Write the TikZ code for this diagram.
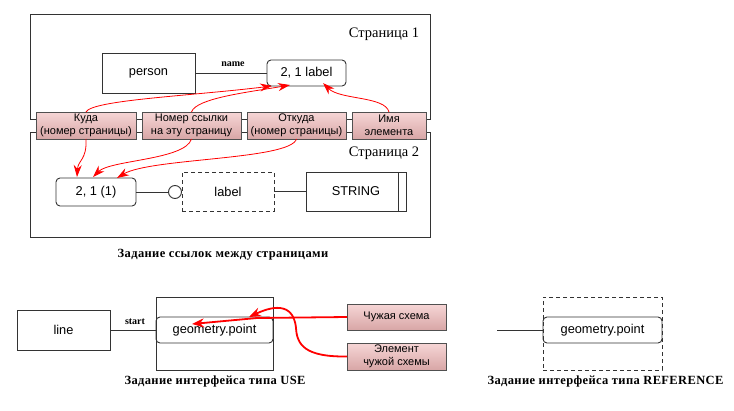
\documentclass[tikz,border=0pt]{standalone}
\usepackage{fontspec}
\setmainfont{Liberation Serif}
\setsansfont{Liberation Sans}
\usetikzlibrary{arrows.meta}
\definecolor{linec}{HTML}{333333}
\definecolor{pinkline}{HTML}{505050}
\definecolor{pinktop}{HTML}{F6D6D6}
\definecolor{pinkbot}{HTML}{D8A6A6}
\newfontfamily\capfont[LetterSpace=3]{Liberation Serif}
\begin{document}
\begin{tikzpicture}[x=1pt,y=-1pt,
  every node/.style={inner sep=0pt, outer sep=0pt},
  box/.style={draw=linec, line width=0.9pt, font=\sffamily\fontsize{12.8}{14}\selectfont},
  rbox/.style={box, rounded corners=4pt},
  dbox/.style={box, dash pattern=on 4pt off 3pt},
  pinkbox/.style={draw=pinkline, line width=0.9pt, top color=pinktop, bottom color=pinkbot, font=\sffamily\fontsize{11}{12.7}\selectfont, align=center},
  pagebox/.style={draw=linec, line width=0.9pt},
  pagetitle/.style={font=\fontsize{14.5}{16}\selectfont},
  lbl/.style={font=\bfseries\fontsize{10}{11}\selectfont},
  captext/.style={font=\capfont\bfseries\fontsize{12.5}{13}\selectfont},
  redarrow/.style={red, line width=0.8pt, -{Stealth[length=12pt,width=8pt]}},
  redthick/.style={red, line width=1.8pt, -{Stealth[length=12pt,width=9pt]}},
  conn/.style={draw=linec, line width=0.9pt}
]
\useasboundingbox (0,0) rectangle (734,410);

% pages
\node[pagebox, minimum width=400pt, minimum height=105pt, anchor=north west] (page1) at (30,14) {};
\node[pagebox, minimum width=400pt, minimum height=105pt, anchor=north west] (page2) at (30,132) {};
\node[pagetitle] (t1) at (384,34) {Страница 1};
\node[pagetitle] (t2) at (384,153) {Страница 2};

% page 1 content
\node[box, minimum width=93pt, minimum height=40pt] (person) at (148.5,73) {person};
\node[rbox, minimum width=79pt, minimum height=26pt] (lab1) at (306.5,73) {2, 1 label};
\draw[conn] (person.east) -- (lab1.west);
\node[lbl] (nm) at (233,64) {name};

% pink boxes
\node[pinkbox, minimum width=100pt, minimum height=27pt] (p1) at (86,125.5) {Куда\\(номер страницы)};
\node[pinkbox, minimum width=99pt, minimum height=27pt] (p2) at (191.5,125.5) {Номер ссылки\\на эту страницу};
\node[pinkbox, minimum width=99pt, minimum height=27pt] (p3) at (296.5,125.5) {Откуда\\(номер страницы)};
\node[pinkbox, minimum width=74pt, minimum height=27pt] (p4) at (389,125.5) {Имя\\элемента};

% page 2 content
\node[rbox, minimum width=80pt, minimum height=28pt] (lab2) at (96,192) {2, 1 (1)};
\node[draw=linec, line width=0.9pt, circle, minimum size=13pt, fill=white] (circ) at (175,192) {};
\node[dbox, minimum width=92pt, minimum height=39pt] (dlab) at (228,191.5) {label};
\node[box, minimum width=100pt, minimum height=39pt] (str) at (356,191.5) {STRING};
\draw[conn] ([xshift=-8pt]str.north east) -- ([xshift=-8pt]str.south east);
\draw[conn] (lab2.east) -- (circ.west);
\draw[conn] (dlab.east) -- (str.west);

\node[captext] (cap1) at (223,255) {Задание ссылок между страницами};

% red arrows, page links
\coordinate (tip1) at (272,86);
\coordinate (tip2) at (290,85);
\coordinate (tip3) at (323,83);
\coordinate (tip4) at (77,177);
\coordinate (tip5) at (93,177);
\coordinate (tip6) at (117,178);
\draw[redarrow] (p1.north) .. controls (92,100) and (190,96) .. (tip1);
\draw[redarrow] (p2.north) .. controls (196,98) and (250,92) .. (tip2);
\draw[redarrow] (p4.north) .. controls (385,96) and (340,100) .. (tip3);
\draw[redarrow] (p1.south) .. controls (87,160) and (78,160) .. (tip4);
\draw[redarrow] (p2.south) .. controls (185,160) and (110,160) .. (tip5);
\draw[redarrow] (p3.south) .. controls (290,160) and (150,158) .. (tip6);

% USE interface
\node[box, minimum width=93pt, minimum height=40pt] (line) at (63.5,330) {line};
\node[box, minimum width=117pt, minimum height=73pt] (use) at (214.5,333.5) {};
\node[rbox, minimum width=117pt, minimum height=26pt] (gp) at (214.5,330) {geometry.point};
\draw[conn] (line.east) -- (gp.west);
\node[lbl] (st) at (135,322) {start};
\node[pinkbox, minimum width=99pt, minimum height=26pt] (chuzh) at (396.5,317) {Чужая схема};
\node[pinkbox, minimum width=99pt, minimum height=27pt] (elem) at (396.5,356.5) {Элемент\\чужой схемы};
\coordinate (tipA) at (192,324);
\coordinate (tipB) at (249,317);
\draw[redthick] (chuzh.west) -- (257,318) -- (tipA);
\draw[redthick] (elem.west) .. controls (305,357) and (297,345) .. (296,328)
   .. controls (293,296) and (262,311) .. (tipB);
\node[captext] (cap2) at (215,381) {Задание интерфейса типа USE};

% REFERENCE interface
\node[dbox, minimum width=119pt, minimum height=73pt] (refb) at (602.5,333.5) {};
\node[rbox, minimum width=119pt, minimum height=26pt] (gp2) at (602.5,330) {geometry.point};
\coordinate (stub) at (497,330);
\draw[conn] (stub) -- (gp2.west);
\node[captext] (cap3) at (605.5,381) {Задание интерфейса типа REFERENCE};
\end{tikzpicture}
\end{document}
